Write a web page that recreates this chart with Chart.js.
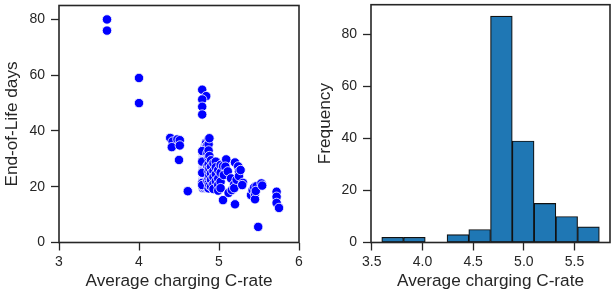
<!DOCTYPE html>
<html>
<head>
<meta charset="utf-8">
<script src="https://cdn.jsdelivr.net/npm/chart.js@4.4.1/dist/chart.umd.min.js"></script>
<style>
  html, body { margin: 0; padding: 0; background: #fff; }
  #wrap { position: relative; width: 611px; height: 292px; overflow: hidden; }
  canvas { position: absolute; top: 0; }
  #scatter { left: 0; }
  #hist { left: 304px; }
</style>
</head>
<body>
<div id="wrap">
  <canvas id="scatter" width="306" height="292"></canvas>
  <canvas id="hist" width="307" height="292"></canvas>
</div>
<script>
// average charging C-rate (x) and end-of-life days (y), one entry per cell
const crate = [
  3.60, 3.60, 4.00, 4.00,
  4.39, 4.42, 4.41, 4.48, 4.51, 4.51, 4.50, 4.61,
  4.79, 4.84, 4.79, 4.79, 4.79,
  4.80, 4.80, 4.80, 4.80, 4.80, 4.80, 4.80, 4.80, 4.80, 4.80, 4.80, 4.80, 4.80, 4.80,
  4.81, 4.81, 4.81, 4.81, 4.81, 4.81, 4.81, 4.81, 4.81, 4.81, 4.81, 4.81, 4.81,
  4.82, 4.82, 4.82, 4.82, 4.82, 4.82, 4.82, 4.82, 4.82, 4.82, 4.82, 4.82,
  4.83, 4.83, 4.83, 4.83, 4.83, 4.83, 4.83, 4.83, 4.83, 4.83, 4.83, 4.83, 4.83,
  4.84, 4.84, 4.84, 4.84, 4.84, 4.84, 4.84, 4.84, 4.84, 4.84, 4.84,
  4.85, 4.85, 4.85, 4.85, 4.85, 4.85, 4.85, 4.85, 4.85, 4.85, 4.85,
  4.79, 4.79, 4.79, 4.79, 4.79,
  4.855, 4.855, 4.855,
  4.87, 4.87, 4.87, 4.87, 4.87, 4.87, 4.87, 4.87, 4.87,
  4.88, 4.88, 4.88, 4.88, 4.88,
  4.90, 4.90, 4.90, 4.90, 4.90,
  4.93, 4.93, 4.93, 4.93, 4.93,
  4.96, 4.96, 4.96, 4.96,
  4.99, 4.99, 4.99, 4.99,
  5.02, 5.02, 5.02, 5.02,
  5.05, 5.05, 5.06,
  5.09, 5.08, 5.11, 5.12, 5.15, 5.16, 5.19, 5.19, 5.20, 5.20, 5.22, 5.24, 5.25, 5.25, 5.27,
  5.30, 5.29, 5.40, 5.42, 5.44, 5.45, 5.45, 5.47, 5.49, 5.46,
  5.53, 5.54, 5.72, 5.72, 5.72, 5.75
];
const eolDays = [
  80.0, 76.0, 59.0, 50.0,
  37.5, 36.2, 34.2, 37.0, 36.7, 34.8, 29.6, 18.4,
  54.8, 52.5, 51.3, 48.7, 45.9,
  33.0, 31.5, 30.0, 29.0, 28.0, 27.0, 26.0, 25.0, 24.0, 23.0, 22.0, 21.0, 20.0, 19.5,
  32.5, 30.5, 29.5, 28.5, 27.5, 26.5, 25.5, 24.5, 23.5, 22.5, 21.5, 20.5, 19.8,
  34.0, 31.0, 29.8, 28.2, 26.8, 25.2, 24.2, 23.2, 22.2, 21.2, 20.2, 19.6,
  35.0, 33.5, 31.8, 30.2, 28.8, 27.2, 25.8, 24.8, 23.8, 22.8, 21.8, 20.8, 19.9,
  35.8, 34.5, 32.0, 30.8, 29.2, 27.8, 26.2, 24.6, 23.0, 21.6, 20.4,
  34.8, 32.5, 31.2, 29.6, 28.4, 26.6, 25.4, 24.0, 22.4, 21.0, 19.8,
  32.8, 29.0, 25.0, 21.4, 20.6,
  32.0, 22.1, 27.5,
  37.0, 35.2, 33.0, 30.5, 28.0, 25.5, 23.0, 21.2, 19.4,
  37.4, 31.0, 26.5, 24.0, 20.5,
  29.5, 27.2, 24.8, 22.5, 20.0,
  28.4, 25.6, 23.4, 21.0, 19.2,
  29.0, 27.0, 24.5, 22.0,
  26.0, 22.9, 20.6, 18.6,
  27.8, 25.0, 21.8, 19.5,
  27.4, 15.2, 24.2,
  29.8, 27.2, 25.5, 17.8, 23.0, 18.8, 20.8, 19.5, 28.7, 13.7, 22.5, 27.3, 25.5, 23.8, 26.0,
  21.4, 20.6, 17.0, 18.8, 19.8, 17.4, 15.5, 20.2, 5.6, 18.5,
  21.2, 20.4, 18.2, 16.4, 14.2, 12.4
];
const scatterXTicks = [3, 4, 5, 6];
const scatterYTicks = [0, 20, 40, 60, 80];

// histogram of C-rate
const binEdges = [3.598, 3.813, 4.027, 4.242, 4.457, 4.671, 4.886, 5.101, 5.316, 5.530, 5.745];
const binCounts = [2, 2, 0, 3, 5, 87, 39, 15, 10, 6];
const histXTicks = [3.5, 4.0, 4.5, 5.0, 5.5];
const histYTicks = [0, 20, 40, 60, 80];

const ink = '#262626';
const fam = '"Liberation Sans", Arial, sans-serif';

const framePlugin = {
  id: 'frame',
  afterDraw(chart) {
    const { ctx, chartArea: a } = chart;
    ctx.save();
    ctx.strokeStyle = ink;
    ctx.lineWidth = 1.6;
    ctx.strokeRect(a.left, a.top, a.right - a.left, a.bottom - a.top);
    ctx.restore();
  }
};

function axis(opts) {
  const { min, max, ticks, fmt, title, titlePad, size, horizontal } = opts;
  return {
    type: 'linear', min, max,
    offset: false,
    afterBuildTicks: s => { s.ticks = ticks.map(v => ({ value: v })); },
    afterFit: s => {
      if (horizontal) { s.height = size; s.paddingLeft = 0; s.paddingRight = 0; }
      else { s.width = size; s.paddingTop = 0; s.paddingBottom = 0; }
    },
    grid: { display: true, offset: false, drawOnChartArea: false, drawTicks: true, tickLength: 8, tickColor: ink, tickWidth: 1.3 },
    border: { display: false },
    ticks: { color: ink, font: { family: fam, size: 14 }, padding: horizontal ? 3 : 6, maxRotation: 0, autoSkip: false, callback: fmt },
    title: { display: true, text: title, color: ink, font: { family: fam, size: 17.2 }, padding: titlePad }
  };
}

Chart.defaults.animation = false;

new Chart(document.getElementById('scatter'), {
  type: 'scatter',
  data: {
    datasets: [{
      data: crate.map((x, i) => ({ x, y: eolDays[i] })),
      backgroundColor: '#0000ff',
      borderColor: '#ffffff',
      borderWidth: 0.8,
      pointRadius: 4.7,
      pointHoverRadius: 4.7
    }]
  },
  options: {
    responsive: false,
    layout: { padding: { top: 4, right: 7, left: 0, bottom: 0 } },
    plugins: { legend: { display: false }, tooltip: { enabled: false } },
    scales: {
      x: axis({ min: 3, max: 6, ticks: scatterXTicks, fmt: v => String(v), title: 'Average charging C-rate', titlePad: { top: 0, bottom: 0 }, size: 49.5, horizontal: true }),
      y: axis({ min: 0, max: 85, ticks: scatterYTicks, fmt: v => String(v), title: 'End-of-Life days', titlePad: { top: 2.3, bottom: 0 }, size: 59 })
    }
  },
  plugins: [framePlugin]
});

new Chart(document.getElementById('hist'), {
  type: 'bar',
  data: {
    datasets: [{
      data: binCounts.map((c, i) => ({ x: (binEdges[i] + binEdges[i + 1]) / 2, y: c })),
      backgroundColor: '#1f77b4',
      borderColor: '#111111',
      borderWidth: 1.2,
      borderSkipped: false,
      barPercentage: 1,
      categoryPercentage: 1
    }]
  },
  options: {
    responsive: false,
    layout: { padding: { top: 4.7, right: 1, left: 0, bottom: 0 } },
    plugins: { legend: { display: false }, tooltip: { enabled: false } },
    scales: {
      x: axis({ min: 3.492, max: 5.85, ticks: histXTicks, fmt: v => v.toFixed(1), title: 'Average charging C-rate', titlePad: { top: 0, bottom: 0 }, size: 49.5, horizontal: true }),
      y: axis({ min: 0, max: 91.35, ticks: histYTicks, fmt: v => String(v), title: 'Frequency', titlePad: { top: 10.8, bottom: 0 }, size: 67 })
    }
  },
  plugins: [framePlugin]
});
</script>
</body>
</html>
